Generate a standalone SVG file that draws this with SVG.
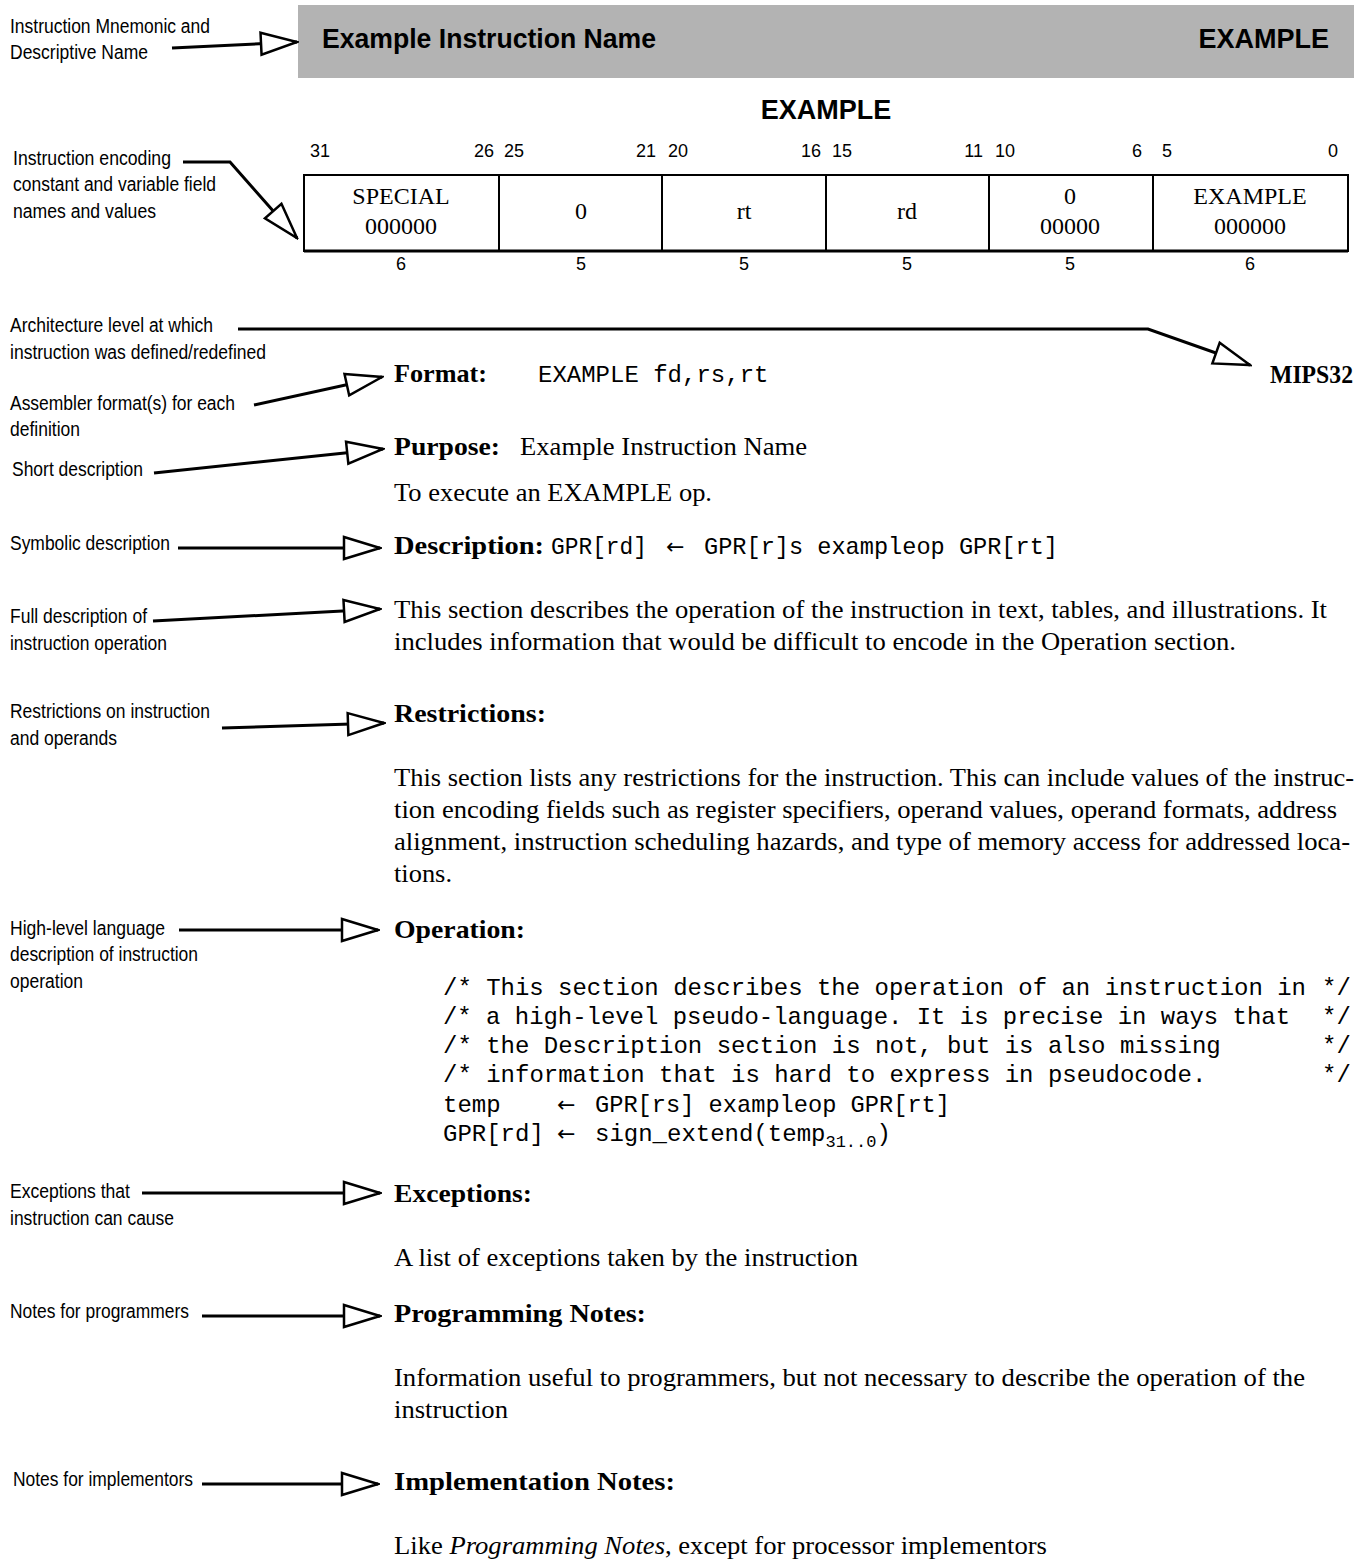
<svg xmlns="http://www.w3.org/2000/svg" width="1368" height="1560" viewBox="0 0 1368 1560">
<style>
.lbl{font-family:"Liberation Sans",Arial,sans-serif;font-size:20px;fill:#000}
.hdr{font-family:"Liberation Sans",Arial,sans-serif;font-weight:bold;font-size:27px;fill:#000}
.bit{font-family:"Liberation Sans",Arial,sans-serif;font-size:18px;fill:#000}
.fld{font-family:"Liberation Serif","Times New Roman",serif;font-size:24px;fill:#000}
.sec{font-family:"Liberation Serif","Times New Roman",serif;font-weight:bold;font-size:26px;fill:#000}
.body{font-family:"Liberation Serif","Times New Roman",serif;font-size:26px;fill:#000}
.mono{font-family:"Liberation Mono","Courier New",monospace;font-size:24px;fill:#000}
.arr{font-family:"DejaVu Sans",sans-serif;font-size:22px;fill:#000}
.conn{fill:none;stroke:#000;stroke-width:3;marker-end:url(#tri)}
.cell{fill:#fff;stroke:#000;stroke-width:2}
</style>
<defs>
<marker id="tri" markerUnits="userSpaceOnUse" viewBox="-2 -2 40 26" markerWidth="40" markerHeight="26" refX="36" refY="11" orient="auto">
<path d="M0,0 L36,11 L0,22 Z" fill="#fff" stroke="#000" stroke-width="2.5" stroke-linejoin="miter"/>
</marker>
</defs>
<rect width="1368" height="1560" fill="#fff"/>

<g id="header">
<rect x="298" y="5" width="1056" height="73" fill="#b3b3b3"/>
<text class="hdr" x="322" y="48" textLength="334" lengthAdjust="spacingAndGlyphs">Example Instruction Name</text>
<text class="hdr" x="1329" y="48" text-anchor="end">EXAMPLE</text>
</g>

<g id="encoding">
<text class="hdr" x="826" y="119" text-anchor="middle">EXAMPLE</text>
<text class="bit" x="310" y="157">31</text>
<text class="bit" x="494" y="157" text-anchor="end">26</text>
<text class="bit" x="504" y="157">25</text>
<text class="bit" x="656" y="157" text-anchor="end">21</text>
<text class="bit" x="668" y="157">20</text>
<text class="bit" x="821" y="157" text-anchor="end">16</text>
<text class="bit" x="832" y="157">15</text>
<text class="bit" x="983" y="157" text-anchor="end">11</text>
<text class="bit" x="995" y="157">10</text>
<text class="bit" x="1142" y="157" text-anchor="end">6</text>
<text class="bit" x="1162" y="157">5</text>
<text class="bit" x="1338" y="157" text-anchor="end">0</text>
<rect class="cell" x="304" y="175" width="1044" height="76"/>
<line x1="304" y1="251" x2="1348" y2="251" stroke="#000" stroke-width="3"/>
<line x1="499" y1="175" x2="499" y2="251" stroke="#000" stroke-width="2"/>
<line x1="662" y1="175" x2="662" y2="251" stroke="#000" stroke-width="2"/>
<line x1="826" y1="175" x2="826" y2="251" stroke="#000" stroke-width="2"/>
<line x1="989" y1="175" x2="989" y2="251" stroke="#000" stroke-width="2"/>
<line x1="1153" y1="175" x2="1153" y2="251" stroke="#000" stroke-width="2"/>
<text class="fld" x="401" y="204" text-anchor="middle">SPECIAL</text>
<text class="fld" x="401" y="234" text-anchor="middle">000000</text>
<text class="fld" x="581" y="219" text-anchor="middle">0</text>
<text class="fld" x="744" y="219" text-anchor="middle">rt</text>
<text class="fld" x="907" y="219" text-anchor="middle">rd</text>
<text class="fld" x="1070" y="204" text-anchor="middle">0</text>
<text class="fld" x="1070" y="234" text-anchor="middle">00000</text>
<text class="fld" x="1250" y="204" text-anchor="middle">EXAMPLE</text>
<text class="fld" x="1250" y="234" text-anchor="middle">000000</text>
<text class="bit" x="401" y="270" text-anchor="middle">6</text>
<text class="bit" x="581" y="270" text-anchor="middle">5</text>
<text class="bit" x="744" y="270" text-anchor="middle">5</text>
<text class="bit" x="907" y="270" text-anchor="middle">5</text>
<text class="bit" x="1070" y="270" text-anchor="middle">5</text>
<text class="bit" x="1250" y="270" text-anchor="middle">6</text>
</g>

<g id="labels" lengthAdjust="spacingAndGlyphs">
<text class="lbl" x="10" y="33" textLength="200" lengthAdjust="spacingAndGlyphs">Instruction Mnemonic and</text>
<text class="lbl" x="10" y="59" textLength="138" lengthAdjust="spacingAndGlyphs">Descriptive Name</text>
<text class="lbl" x="13" y="165" textLength="158" lengthAdjust="spacingAndGlyphs">Instruction encoding</text>
<text class="lbl" x="13" y="191" textLength="203" lengthAdjust="spacingAndGlyphs">constant and variable field</text>
<text class="lbl" x="13" y="218" textLength="143" lengthAdjust="spacingAndGlyphs">names and values</text>
<text class="lbl" x="10" y="332" textLength="203" lengthAdjust="spacingAndGlyphs">Architecture level at which</text>
<text class="lbl" x="10" y="359" textLength="256" lengthAdjust="spacingAndGlyphs">instruction was defined/redefined</text>
<text class="lbl" x="10" y="410" textLength="225" lengthAdjust="spacingAndGlyphs">Assembler format(s) for each</text>
<text class="lbl" x="10" y="436" textLength="70" lengthAdjust="spacingAndGlyphs">definition</text>
<text class="lbl" x="12" y="476" textLength="131" lengthAdjust="spacingAndGlyphs">Short description</text>
<text class="lbl" x="10" y="550" textLength="160" lengthAdjust="spacingAndGlyphs">Symbolic description</text>
<text class="lbl" x="10" y="623" textLength="137" lengthAdjust="spacingAndGlyphs">Full description of</text>
<text class="lbl" x="10" y="650" textLength="157" lengthAdjust="spacingAndGlyphs">instruction operation</text>
<text class="lbl" x="10" y="718" textLength="200" lengthAdjust="spacingAndGlyphs">Restrictions on instruction</text>
<text class="lbl" x="10" y="745" textLength="107" lengthAdjust="spacingAndGlyphs">and operands</text>
<text class="lbl" x="10" y="935" textLength="155" lengthAdjust="spacingAndGlyphs">High-level language</text>
<text class="lbl" x="10" y="961" textLength="188" lengthAdjust="spacingAndGlyphs">description of instruction</text>
<text class="lbl" x="10" y="988" textLength="73" lengthAdjust="spacingAndGlyphs">operation</text>
<text class="lbl" x="10" y="1198" textLength="120" lengthAdjust="spacingAndGlyphs">Exceptions that</text>
<text class="lbl" x="10" y="1225" textLength="164" lengthAdjust="spacingAndGlyphs">instruction can cause</text>
<text class="lbl" x="10" y="1318" textLength="179" lengthAdjust="spacingAndGlyphs">Notes for programmers</text>
<text class="lbl" x="13" y="1486" textLength="180" lengthAdjust="spacingAndGlyphs">Notes for implementors</text>
</g>

<g id="connectors">
<path class="conn" d="M172,48 L297,42"/>
<path class="conn" d="M183,162 L230,162 L297,238"/>
<path class="conn" d="M238,329 L1148,329 L1250,365"/>
<path class="conn" d="M254,405 L382,377"/>
<path class="conn" d="M154,473 L383,449"/>
<path class="conn" d="M178,548 L380,548"/>
<path class="conn" d="M153,621 L380,609"/>
<path class="conn" d="M222,728 L384,723"/>
<path class="conn" d="M179,930 L378,930"/>
<path class="conn" d="M142,1193 L380,1193"/>
<path class="conn" d="M202,1316 L380,1316"/>
<path class="conn" d="M202,1484 L378,1484"/>
</g>

<g id="arch">
<text class="sec" x="1270" y="383" font-size="22" textLength="83" lengthAdjust="spacingAndGlyphs">MIPS32</text>
</g>

<g id="format">
<text class="sec" x="394" y="382" textLength="93" lengthAdjust="spacingAndGlyphs">Format:</text>
<text class="mono" x="538" y="382">EXAMPLE fd,rs,rt</text>
</g>

<g id="purpose">
<text class="sec" x="394" y="455" textLength="106" lengthAdjust="spacingAndGlyphs">Purpose:</text>
<text class="body" x="520" y="455" textLength="287" lengthAdjust="spacingAndGlyphs">Example Instruction Name</text>
<text class="body" x="394" y="501" textLength="318" lengthAdjust="spacingAndGlyphs">To execute an EXAMPLE op.</text>
</g>

<g id="description">
<text class="sec" x="394" y="554" textLength="150" lengthAdjust="spacingAndGlyphs">Description:</text>
<text class="mono" x="551" y="554" textLength="96" lengthAdjust="spacingAndGlyphs">GPR[rd]</text>
<text class="arr" x="666" y="554">←</text>
<text class="mono" x="704" y="554" textLength="354" lengthAdjust="spacingAndGlyphs">GPR[r]s exampleop GPR[rt]</text>
<text class="body" x="394" y="618" textLength="933" lengthAdjust="spacingAndGlyphs">This section describes the operation of the instruction in text, tables, and illustrations. It</text>
<text class="body" x="394" y="650" textLength="842" lengthAdjust="spacingAndGlyphs">includes information that would be difficult to encode in the Operation section.</text>
</g>

<g id="restrictions">
<text class="sec" x="394" y="722" textLength="152" lengthAdjust="spacingAndGlyphs">Restrictions:</text>
<text class="body" x="394" y="786" textLength="960" lengthAdjust="spacingAndGlyphs">This section lists any restrictions for the instruction. This can include values of the instruc-</text>
<text class="body" x="394" y="818" textLength="943" lengthAdjust="spacingAndGlyphs">tion encoding fields such as register specifiers, operand values, operand formats, address</text>
<text class="body" x="394" y="850" textLength="956" lengthAdjust="spacingAndGlyphs">alignment, instruction scheduling hazards, and type of memory access for addressed loca-</text>
<text class="body" x="394" y="882" textLength="58" lengthAdjust="spacingAndGlyphs">tions.</text>
</g>

<g id="operation">
<text class="sec" x="394" y="938" textLength="131" lengthAdjust="spacingAndGlyphs">Operation:</text>
<text class="mono" x="443" y="995" textLength="863" lengthAdjust="spacingAndGlyphs">/* This section describes the operation of an instruction in</text>
<text class="mono" x="443" y="1024" textLength="847" lengthAdjust="spacingAndGlyphs">/* a high-level pseudo-language. It is precise in ways that</text>
<text class="mono" x="443" y="1053">/* the Description section is not, but is also missing</text>
<text class="mono" x="443" y="1082">/* information that is hard to express in pseudocode.</text>
<text class="mono" x="1322" y="995">*/</text>
<text class="mono" x="1322" y="1024">*/</text>
<text class="mono" x="1322" y="1053">*/</text>
<text class="mono" x="1322" y="1082">*/</text>
<text class="mono" x="443" y="1112">temp</text>
<text class="arr" x="557" y="1112">←</text>
<text class="mono" x="595" y="1112" textLength="355" lengthAdjust="spacingAndGlyphs">GPR[rs] exampleop GPR[rt]</text>
<text class="mono" x="443" y="1141">GPR[rd]</text>
<text class="arr" x="557" y="1141">←</text>
<text class="mono" x="595" y="1141">sign_extend(temp<tspan font-size="17" dy="6">31..0</tspan><tspan dy="-6">)</tspan></text>
</g>

<g id="exceptions">
<text class="sec" x="394" y="1202" textLength="138" lengthAdjust="spacingAndGlyphs">Exceptions:</text>
<text class="body" x="394" y="1266" textLength="464" lengthAdjust="spacingAndGlyphs">A list of exceptions taken by the instruction</text>
</g>

<g id="prognotes">
<text class="sec" x="394" y="1322" textLength="252" lengthAdjust="spacingAndGlyphs">Programming Notes:</text>
<text class="body" x="394" y="1386" textLength="911" lengthAdjust="spacingAndGlyphs">Information useful to programmers, but not necessary to describe the operation of the</text>
<text class="body" x="394" y="1418" textLength="114" lengthAdjust="spacingAndGlyphs">instruction</text>
</g>

<g id="implnotes">
<text class="sec" x="394" y="1490" textLength="281" lengthAdjust="spacingAndGlyphs">Implementation Notes:</text>
<text class="body" x="394" y="1554" textLength="653" lengthAdjust="spacingAndGlyphs">Like <tspan font-style="italic">Programming Notes</tspan>, except for processor implementors</text>
</g>
</svg>
